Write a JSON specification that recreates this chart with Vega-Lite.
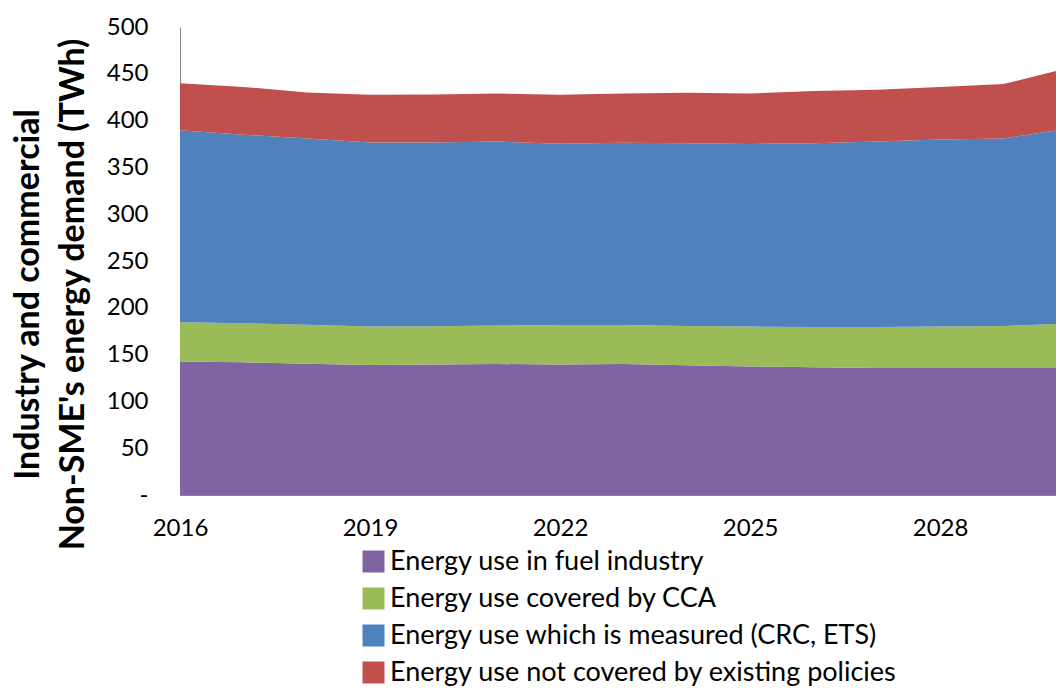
{
  "$schema": "https://vega.github.io/schema/vega-lite/v6.json",
  "autosize": "none",
  "width": 876,
  "height": 468,
  "padding": {"left": 180, "top": 27, "right": 0, "bottom": 194},
  "background": "white",
  "config": {
    "view": {"stroke": null},
    "font": "Lato"
  },
  "data": {
    "values": [
      {"year": 2016, "series": "Energy use in fuel industry", "rank": 1, "value": 142.7},
      {"year": 2017, "series": "Energy use in fuel industry", "rank": 1, "value": 141.7},
      {"year": 2018, "series": "Energy use in fuel industry", "rank": 1, "value": 140.3},
      {"year": 2019, "series": "Energy use in fuel industry", "rank": 1, "value": 138.8},
      {"year": 2020, "series": "Energy use in fuel industry", "rank": 1, "value": 139.5},
      {"year": 2021, "series": "Energy use in fuel industry", "rank": 1, "value": 139.9},
      {"year": 2022, "series": "Energy use in fuel industry", "rank": 1, "value": 139.5},
      {"year": 2023, "series": "Energy use in fuel industry", "rank": 1, "value": 139.9},
      {"year": 2024, "series": "Energy use in fuel industry", "rank": 1, "value": 138.5},
      {"year": 2025, "series": "Energy use in fuel industry", "rank": 1, "value": 137.4},
      {"year": 2026, "series": "Energy use in fuel industry", "rank": 1, "value": 136.4},
      {"year": 2027, "series": "Energy use in fuel industry", "rank": 1, "value": 135.6},
      {"year": 2028, "series": "Energy use in fuel industry", "rank": 1, "value": 135.6},
      {"year": 2029, "series": "Energy use in fuel industry", "rank": 1, "value": 135.6},
      {"year": 2030, "series": "Energy use in fuel industry", "rank": 1, "value": 135.6},
      {"year": 2016, "series": "Energy use covered by CCA", "rank": 2, "value": 41.8},
      {"year": 2017, "series": "Energy use covered by CCA", "rank": 2, "value": 41.7},
      {"year": 2018, "series": "Energy use covered by CCA", "rank": 2, "value": 41.7},
      {"year": 2019, "series": "Energy use covered by CCA", "rank": 2, "value": 41.2},
      {"year": 2020, "series": "Energy use covered by CCA", "rank": 2, "value": 40.8},
      {"year": 2021, "series": "Energy use covered by CCA", "rank": 2, "value": 41.1},
      {"year": 2022, "series": "Energy use covered by CCA", "rank": 2, "value": 42.0},
      {"year": 2023, "series": "Energy use covered by CCA", "rank": 2, "value": 41.8},
      {"year": 2024, "series": "Energy use covered by CCA", "rank": 2, "value": 42.1},
      {"year": 2025, "series": "Energy use covered by CCA", "rank": 2, "value": 42.5},
      {"year": 2026, "series": "Energy use covered by CCA", "rank": 2, "value": 43.1},
      {"year": 2027, "series": "Energy use covered by CCA", "rank": 2, "value": 43.9},
      {"year": 2028, "series": "Energy use covered by CCA", "rank": 2, "value": 44.3},
      {"year": 2029, "series": "Energy use covered by CCA", "rank": 2, "value": 45.0},
      {"year": 2030, "series": "Energy use covered by CCA", "rank": 2, "value": 47.6},
      {"year": 2016, "series": "Energy use which is measured (CRC, ETS)", "rank": 3, "value": 205.2},
      {"year": 2017, "series": "Energy use which is measured (CRC, ETS)", "rank": 3, "value": 201.6},
      {"year": 2018, "series": "Energy use which is measured (CRC, ETS)", "rank": 3, "value": 199.0},
      {"year": 2019, "series": "Energy use which is measured (CRC, ETS)", "rank": 3, "value": 196.5},
      {"year": 2020, "series": "Energy use which is measured (CRC, ETS)", "rank": 3, "value": 196.2},
      {"year": 2021, "series": "Energy use which is measured (CRC, ETS)", "rank": 3, "value": 196.6},
      {"year": 2022, "series": "Energy use which is measured (CRC, ETS)", "rank": 3, "value": 193.9},
      {"year": 2023, "series": "Energy use which is measured (CRC, ETS)", "rank": 3, "value": 194.6},
      {"year": 2024, "series": "Energy use which is measured (CRC, ETS)", "rank": 3, "value": 195.2},
      {"year": 2025, "series": "Energy use which is measured (CRC, ETS)", "rank": 3, "value": 195.1},
      {"year": 2026, "series": "Energy use which is measured (CRC, ETS)", "rank": 3, "value": 196.3},
      {"year": 2027, "series": "Energy use which is measured (CRC, ETS)", "rank": 3, "value": 198.1},
      {"year": 2028, "series": "Energy use which is measured (CRC, ETS)", "rank": 3, "value": 199.8},
      {"year": 2029, "series": "Energy use which is measured (CRC, ETS)", "rank": 3, "value": 200.4},
      {"year": 2030, "series": "Energy use which is measured (CRC, ETS)", "rank": 3, "value": 207.8},
      {"year": 2016, "series": "Energy use not covered by existing policies", "rank": 4, "value": 50.3},
      {"year": 2017, "series": "Energy use not covered by existing policies", "rank": 4, "value": 51.0},
      {"year": 2018, "series": "Energy use not covered by existing policies", "rank": 4, "value": 49.0},
      {"year": 2019, "series": "Energy use not covered by existing policies", "rank": 4, "value": 51.0},
      {"year": 2020, "series": "Energy use not covered by existing policies", "rank": 4, "value": 51.5},
      {"year": 2021, "series": "Energy use not covered by existing policies", "rank": 4, "value": 51.4},
      {"year": 2022, "series": "Energy use not covered by existing policies", "rank": 4, "value": 52.1},
      {"year": 2023, "series": "Energy use not covered by existing policies", "rank": 4, "value": 52.7},
      {"year": 2024, "series": "Energy use not covered by existing policies", "rank": 4, "value": 53.9},
      {"year": 2025, "series": "Energy use not covered by existing policies", "rank": 4, "value": 54.0},
      {"year": 2026, "series": "Energy use not covered by existing policies", "rank": 4, "value": 55.7},
      {"year": 2027, "series": "Energy use not covered by existing policies", "rank": 4, "value": 55.4},
      {"year": 2028, "series": "Energy use not covered by existing policies", "rank": 4, "value": 56.3},
      {"year": 2029, "series": "Energy use not covered by existing policies", "rank": 4, "value": 58.0},
      {"year": 2030, "series": "Energy use not covered by existing policies", "rank": 4, "value": 65.0}
    ]
  },
  "mark": {"type": "area", "clip": true, "interpolate": "linear", "opacity": 1},
  "encoding": {
    "x": {
      "field": "year",
      "type": "quantitative",
      "scale": {"domain": [2016, 2029.83], "nice": false, "zero": false},
      "axis": {
        "title": null,
        "values": [2016, 2019, 2022, 2025, 2028],
        "format": "d",
        "grid": false,
        "ticks": false,
        "domainColor": "#868686",
        "domainWidth": 1,
        "labelFontSize": 24,
        "labelColor": "#000000",
        "labelPadding": 21,
        "labelFlush": false
      }
    },
    "y": {
      "field": "value",
      "type": "quantitative",
      "stack": "zero",
      "scale": {"domain": [0, 500], "nice": false},
      "axis": {
        "title": ["Industry and commercial", "Non-SME's energy demand (TWh)"],
        "titleFontSize": 34,
        "titleFontWeight": "bold",
        "titleColor": "#000000",
        "titleAngle": -90,
        "titleAlign": "center",
        "titleBaseline": "alphabetic",
        "titleLineHeight": 45,
        "titleX": -142,
        "titleY": 267,
        "values": [0, 50, 100, 150, 200, 250, 300, 350, 400, 450, 500],
        "labelExpr": "datum.value == 0 ? '-' : datum.label",
        "grid": false,
        "ticks": false,
        "domainColor": "#868686",
        "domainWidth": 1,
        "labelFontSize": 24,
        "labelColor": "#000000",
        "labelPadding": 32,
        "labelFlush": false
      }
    },
    "color": {
      "field": "series",
      "type": "nominal",
      "sort": ["Energy use in fuel industry", "Energy use covered by CCA", "Energy use which is measured (CRC, ETS)", "Energy use not covered by existing policies"],
      "scale": {
        "domain": ["Energy use in fuel industry", "Energy use covered by CCA", "Energy use which is measured (CRC, ETS)", "Energy use not covered by existing policies"],
        "range": ["#8064A2", "#9BBB59", "#4F81BD", "#C0504D"]
      },
      "legend": {
        "title": null,
        "orient": "none",
        "legendX": 180,
        "legendY": 521,
        "symbolType": "square",
        "symbolSize": 484,
        "symbolStrokeWidth": 0,
        "symbolOpacity": 1,
        "labelFontSize": 27,
        "labelColor": "#000000",
        "labelOffset": 3,
        "rowPadding": 9,
        "labelLimit": 800
      }
    },
    "order": {"field": "rank", "type": "quantitative", "sort": "ascending"}
  }
}
